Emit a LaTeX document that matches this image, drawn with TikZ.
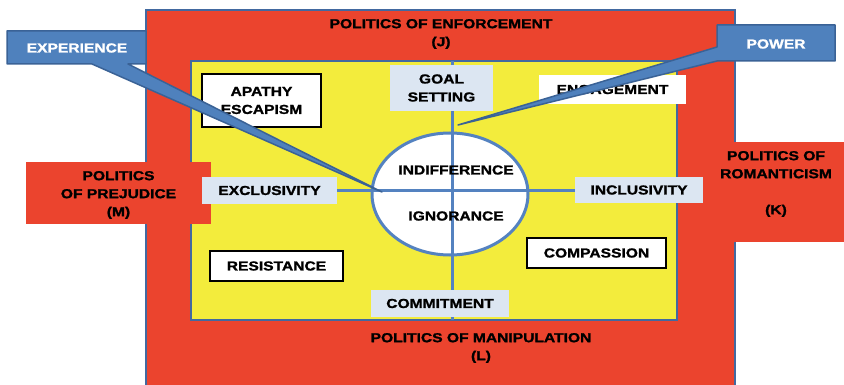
\documentclass[tikz,border=0pt]{standalone}
\usepackage{fontspec}
\usetikzlibrary{shapes.geometric}
\newfontfamily\dfont{Liberation Sans}[FakeStretch=1.2, BoldFeatures={FakeBold=1.5}]
\definecolor{redc}{RGB}{235,68,46}
\definecolor{yelc}{RGB}{243,236,60}
\definecolor{linec}{RGB}{84,130,192}
\definecolor{edgec}{RGB}{66,105,160}
\definecolor{calloutc}{RGB}{79,129,189}
\definecolor{calloutedge}{RGB}{58,98,150}
\definecolor{lightc}{RGB}{220,230,242}
\begin{document}
\begin{tikzpicture}[x=1pt,y=-1pt,
  txt/.style={font=\dfont\bfseries\fontsize{13}{18}\selectfont, align=center, inner sep=0pt},
  wtxt/.style={txt, text=white},
  bbox/.style={txt, draw=black, line width=2pt, fill=white, minimum width=#1},
  lbox/.style={txt, fill=lightc, minimum width=#1},
  redbox/.style={fill=redc, inner sep=0pt, minimum width=#1},
  crossline/.style={draw=linec, line width=3pt},
  callout/.style={fill=calloutc, draw=calloutedge, line width=1.5pt, line join=round}]
\useasboundingbox (0,0) rectangle (844,385);
\clip (0,0) rectangle (844,385);
% outer frame
\draw[fill=redc, draw=edgec, line width=2pt] (146,10) rectangle (735,400);
% inner field
\draw[fill=yelc, draw=edgec, line width=2.5pt] (191,61) rectangle (677,320);
% cross
\coordinate (vtop) at (452,61);
\coordinate (vbot) at (452,320);
\coordinate (hleft) at (191,191);
\coordinate (hright) at (677,191);
\node[ellipse, fill=white, draw=linec, line width=3pt, minimum width=156, minimum height=122, inner sep=0pt] (core) at (450,194) {};
\draw[crossline] (vtop) -- (vbot);
\draw[crossline] (hleft) -- (hright);
\node[txt] (indiff) at (456,170) {INDIFFERENCE};
\node[txt] (ignor) at (456,216) {IGNORANCE};
% inner boxes
\node[lbox=103, minimum height=46] (goal) at (441.5,88) {GOAL\\SETTING};
\node[txt, fill=white, minimum width=147, minimum height=29] (engage) at (612.5,89.5) {ENGAGEMENT};
\node[bbox=119, minimum height=53] (apathy) at (261.5,100.5) {APATHY\\ESCAPISM};
\node[bbox=133, minimum height=30] (resist) at (276.5,266) {RESISTANCE};
\node[bbox=139, minimum height=30] (compass) at (596.5,253) {COMPASSION};
\node[lbox=138, minimum height=27] (commit) at (440,303.5) {COMMITMENT};
% side red boxes
\node[redbox=185, minimum height=62] (prejbox) at (118.5,193) {};
\node[redbox=136, minimum height=100] (romabox) at (776,192) {};
\node[txt] (prej) at (118.5,195) {POLITICS\\OF PREJUDICE\\(M)};
\node[txt] (roma) at (776,184) {POLITICS OF\\ROMANTICISM\\[18pt](K)};
\node[txt] (enf) at (441,34) {POLITICS OF ENFORCEMENT\\(J)};
\node[txt] (manip) at (481,348) {POLITICS OF MANIPULATION\\(L)};
\node[lbox=135, minimum height=27] (excl) at (269.5,190.5) {EXCLUSIVITY};
\node[lbox=128, minimum height=26] (incl) at (639,190) {INCLUSIVITY};
% callouts
\draw[callout] (7,31) -- (146,31) -- (146,64) -- (128,64) -- (382,192) -- (92,64) -- (7,64) -- cycle;
\node[wtxt] (exper) at (77,48) {EXPERIENCE};
\draw[callout] (717,25) -- (835,25) -- (835,61) -- (717,61) -- (458,125) -- (717,47) -- cycle;
\node[wtxt] (power) at (776,44) {POWER};
\end{tikzpicture}
\end{document}
